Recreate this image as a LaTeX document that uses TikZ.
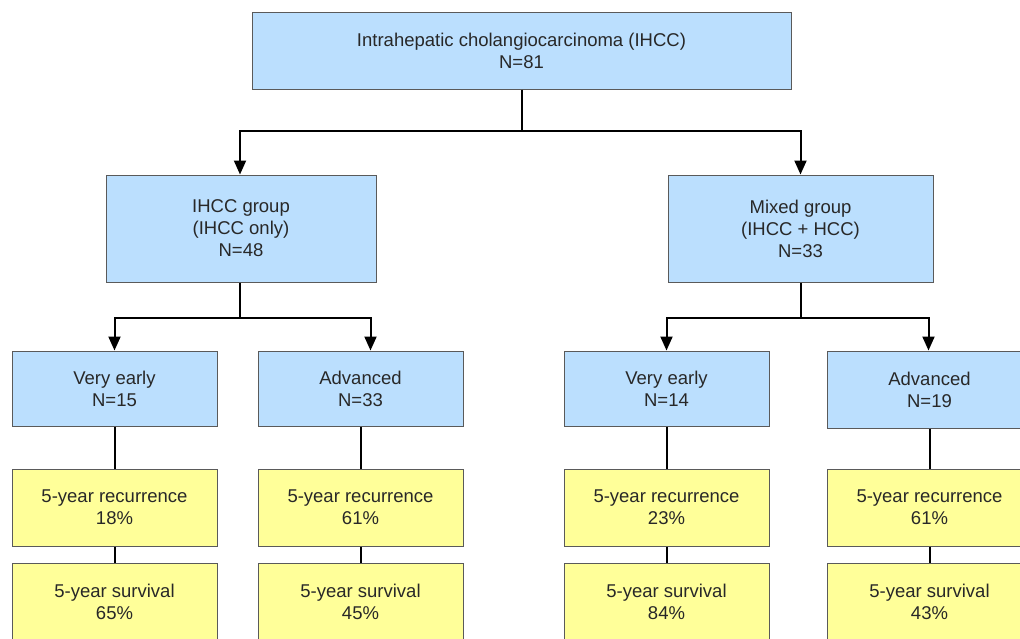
\documentclass[tikz,border=0pt]{standalone}
\usepackage{fontspec}
\setmainfont{Liberation Sans}
\usetikzlibrary{arrows.meta}
\definecolor{boxblue}{RGB}{187,223,254}
\definecolor{boxyellow}{RGB}{255,255,153}
\definecolor{boxedge}{RGB}{90,90,90}
\definecolor{txt}{RGB}{40,40,40}
\tikzset{
  box/.style={draw=boxedge,line width=1pt,align=center,text=txt,inner sep=0pt,
    font=\fontsize{18.5}{22}\selectfont},
  bluebox/.style={box,fill=boxblue},
  yelbox/.style={box,fill=boxyellow},
  conn/.style={line width=2pt,black},
  arr/.style={conn,-{Triangle[length=14pt,width=12pt]}},
}
\begin{document}
\begin{tikzpicture}[x=1pt,y=-1pt]
\useasboundingbox (0,0) rectangle (1020,638);
\clip (0,0) rectangle (1020,638);
\node[bluebox,minimum width=539pt,minimum height=77pt] (top) at (521.5,50.5)
  {Intrahepatic cholangiocarcinoma (IHCC)\\N=81};
\node[bluebox,minimum width=270pt,minimum height=107pt] (ihcc) at (241,228.5)
  {IHCC group\\(IHCC only)\\N=48};
\node[bluebox,minimum width=265pt,minimum height=107pt] (mixed) at (800.5,228.5)
  {Mixed group\\(IHCC + HCC)\\N=33};
\node[bluebox,minimum width=205pt,minimum height=75pt] (ve1) at (114.5,388.5) {Very early\\N=15};
\node[bluebox,minimum width=205pt,minimum height=75pt] (ad1) at (360.5,388.5) {Advanced\\N=33};
\node[bluebox,minimum width=205pt,minimum height=75pt] (ve2) at (666.5,388.5) {Very early\\N=14};
\node[bluebox,minimum width=205pt,minimum height=77pt] (ad2) at (929.5,389.5) {Advanced\\N=19};
\node[yelbox,minimum width=205pt,minimum height=77pt] (r1) at (114.5,507.5) {5-year recurrence\\18\%};
\node[yelbox,minimum width=205pt,minimum height=77pt] (r2) at (360.5,507.5) {5-year recurrence\\61\%};
\node[yelbox,minimum width=205pt,minimum height=77pt] (r3) at (666.5,507.5) {5-year recurrence\\23\%};
\node[yelbox,minimum width=205pt,minimum height=77pt] (r4) at (929.5,507.5) {5-year recurrence\\61\%};
\node[yelbox,minimum width=205pt,minimum height=77pt] (s1) at (114.5,601.5) {5-year survival\\65\%};
\node[yelbox,minimum width=205pt,minimum height=77pt] (s2) at (360.5,601.5) {5-year survival\\45\%};
\node[yelbox,minimum width=205pt,minimum height=77pt] (s3) at (666.5,601.5) {5-year survival\\84\%};
\node[yelbox,minimum width=205pt,minimum height=77pt] (s4) at (929.5,601.5) {5-year survival\\43\%};
% top split
\draw[conn] (top.south) -- ++(0,41) coordinate (tj);
\draw[arr] (tj) -| ([xshift=-1pt]ihcc.north);
\draw[arr] (tj) -| (mixed.north);
% IHCC split
\draw[conn] ([xshift=-1pt]ihcc.south) -- ++(0,35) coordinate (ij);
\draw[arr] (ij) -| (ve1.north);
\draw[arr] (ij) -| ([xshift=10pt]ad1.north);
% Mixed split
\draw[conn] (mixed.south) -- ++(0,35) coordinate (mj);
\draw[arr] (mj) -| (ve2.north);
\draw[arr] (mj) -| ([xshift=-1pt]ad2.north);
% columns
\foreach \a/\b/\c in {ve1/r1/s1,ad1/r2/s2,ve2/r3/s3,ad2/r4/s4}{
  \draw[conn] (\a.south) -- (\b.north);
  \draw[conn] (\b.south) -- (\c.north);
}
\end{tikzpicture}
\end{document}
